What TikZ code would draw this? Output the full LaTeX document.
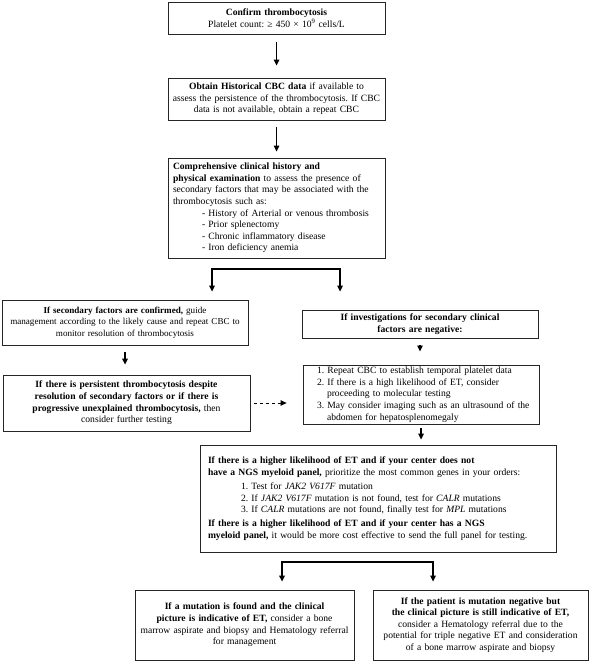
\documentclass[tikz,border=0pt]{standalone}
\usepackage{fontspec}
\setmainfont{Liberation Serif}
\usetikzlibrary{arrows.meta,shadows}
\frenchspacing

\begin{document}
\begin{tikzpicture}[x=1pt,y=-1pt,font=\fontsize{9.6}{11.6}\selectfont]
  \tikzstyle{box}=[draw=black!85,line width=0.8pt,fill=white,inner xsep=2pt,inner ysep=2pt,drop shadow={shadow xshift=1.2pt,shadow yshift=-1.2pt,fill=black!50,opacity=.6}]
  \tikzstyle{arr}=[draw,line width=1.3pt,-{Triangle[length=6pt,width=5.5pt]}]
  \useasboundingbox (0,0) rectangle (591,662);

  % main column
  \node[box,text width=213pt,minimum height=32pt,align=center] (confirm) at (276.5,18)
    {\textbf{Confirm thrombocytosis}\\Platelet count: ≥ 450 × 10\textsuperscript{9} cells/L};
  \node[box,text width=213pt,minimum height=42pt,align=center] (history) at (276.5,99)
    {\textbf{Obtain Historical CBC data} if available to\\assess the persistence of the thrombocytosis. If CBC\\data is not available, obtain a repeat CBC};
  \node[box,text width=213pt,minimum height=100pt,align=left] (exam) at (276.5,208)
    {\hspace*{3pt}\textbf{Comprehensive clinical history and}\\
     \hspace*{3pt}\textbf{physical examination} to assess the presence of\\
     \hspace*{3pt}secondary factors that may be associated with the\\
     \hspace*{3pt}thrombocytosis such as:\\
     \hspace*{32pt}- History of Arterial or venous thrombosis\\
     \hspace*{32pt}- Prior splenectomy\\
     \hspace*{32pt}- Chronic inflammatory disease\\
     \hspace*{32pt}- Iron deficiency anemia};

  % left branch
  \node[box,text width=242pt,minimum height=45pt,align=center,font=\fontsize{9.1}{11.6}\selectfont] (secondary) at (125,322.5)
    {\textbf{If secondary factors are confirmed,} guide\\management according to the likely cause and repeat CBC to\\monitor resolution of thrombocytosis};
  \node[box,text width=243pt,minimum height=56pt,align=center] (persist) at (126.5,403)
    {\textbf{If there is persistent thrombocytosis despite}\\\textbf{resolution of secondary factors or if there is}\\\textbf{progressive unexplained thrombocytosis,} then\\consider further testing};

  % right branch
  \node[box,text width=232pt,minimum height=28pt,align=center] (negative) at (420,324)
    {\textbf{If investigations for secondary clinical}\\\textbf{factors are negative:}};
  \node[box,text width=232pt,minimum height=53pt,align=left] (repeatcbc) at (421,394.5)
    {\hspace*{12pt}1. Repeat CBC to establish temporal platelet data\\
     \hspace*{12pt}2. If there is a high likelihood of ET, consider\\
     \hspace*{22pt}proceeding to molecular testing\\
     \hspace*{12pt}3. May consider imaging such as an ultrasound of the\\
     \hspace*{22pt}abdomen for hepatosplenomegaly};
  \node[box,text width=340pt,inner xsep=8pt,minimum height=107pt,align=left] (genes) at (378,498.5)
    {\textbf{If there is a higher likelihood of ET and if your center does not}\\
     \textbf{have a NGS myeloid panel,} prioritize the most common genes in your orders:\\[3pt]
     \hspace*{33pt}1. Test for \textit{JAK2 V617F} mutation\\
     \hspace*{33pt}2. If \textit{JAK2 V617F} mutation is not found, test for \textit{CALR} mutations\\
     \hspace*{33pt}3. If \textit{CALR} mutations are not found, finally test for \textit{MPL} mutations\\[2pt]
     \textbf{If there is a higher likelihood of ET and if your center has a NGS}\\
     \textbf{myeloid panel,} it would be more cost effective to send the full panel for testing.};

  % outcomes
  \node[box,text width=215pt,minimum height=70pt,align=center] (found) at (244.5,625)
    {\textbf{If a mutation is found and the clinical}\\\textbf{picture is indicative of ET,} consider a bone\\marrow aspirate and biopsy and Hematology referral\\for management};
  \node[box,text width=211pt,minimum height=70pt,align=center] (notfound) at (480.5,625)
    {\textbf{If the patient is mutation negative but}\\\textbf{the clinical picture is still indicative of ET,}\\consider a Hematology referral due to the\\potential for triple negative ET and consideration\\of a bone marrow aspirate and biopsy};

  % connectors
  \coordinate (forkL) at (212,269);
  \coordinate (forkR) at (340,269);
  \coordinate (forkB) at (282,562);
  \coordinate (forkC) at (433,562);
  \path[arr,shorten <=8pt,shorten >=12pt] (confirm) -- (history);
  \path[arr,shorten <=7pt,shorten >=6pt] (history) -- (exam);
  \path[arr,shorten >=8pt] (forkR) -- (forkL) -- (forkL |- secondary.north);
  \path[arr,shorten >=18pt] (forkL) -- (forkR) -- (forkR |- negative.north);
  \path[arr,shorten <=7pt,shorten >=10pt] (secondary.south) -- (secondary.south |- persist.north);
  \path[arr,shorten <=7pt,shorten >=13pt] (negative.south) -- (negative.south |- repeatcbc.north);
  \path[arr,line width=1pt,dashed,shorten <=4pt,shorten >=16pt] (persist.east) -- (persist.east -| repeatcbc.west);
  \path[arr,shorten <=4pt,shorten >=5pt] (repeatcbc.south) -- (repeatcbc.south |- genes.north);
  \path[arr,shorten >=8pt] (forkC) -- (forkB) -- (forkB |- found.north);
  \path[arr,shorten >=8pt] (forkB) -- (forkC) -- (forkC |- notfound.north);
\end{tikzpicture}
\end{document}
